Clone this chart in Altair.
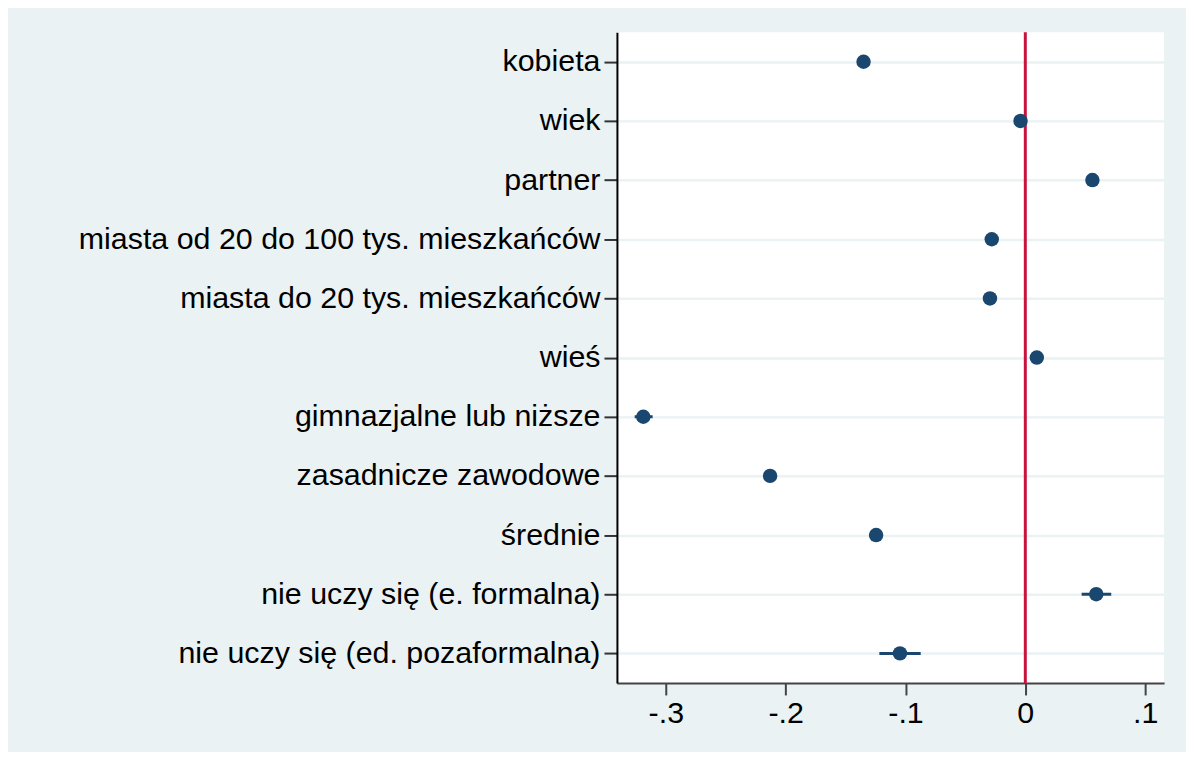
import altair as alt
import pandas as pd

labels = [
    "kobieta",
    "wiek",
    "partner",
    "miasta od 20 do 100 tys. mieszkańców",
    "miasta do 20 tys. mieszkańców",
    "wieś",
    "gimnazjalne lub niższe",
    "zasadnicze zawodowe",
    "średnie",
    "nie uczy się (e. formalna)",
    "nie uczy się (ed. pozaformalna)",
]
coef = [-0.135, -0.004, 0.056, -0.028, -0.0295, 0.0096, -0.3188, -0.213, -0.1245, 0.0592, -0.1046]
ci_low = [-0.140, -0.005, 0.051, -0.033, -0.034, 0.005, -0.326, -0.218, -0.130, 0.047, -0.1218]
ci_high = [-0.130, -0.003, 0.061, -0.023, -0.025, 0.014, -0.311, -0.208, -0.119, 0.0717, -0.0873]
zero_line = [0.0]
tick_values = [-0.3, -0.2, -0.1, 0.0, 0.1]

df = pd.DataFrame({"label": labels, "coef": coef, "lo": ci_low, "hi": ci_high})
zdf = pd.DataFrame({"x": zero_line})

NAVY = "#1A476F"
RED = "#C8133D"
BG = "#EAF2F3"
FONT = "Liberation Sans"

xscale = alt.Scale(domain=[-0.3408, 0.1158], nice=False, zero=False)
xaxis = alt.Axis(
    title=None,
    values=tick_values,
    labelExpr="(datum.value < 0 ? '-' : '') + replace(format(abs(datum.value), '.1~f'), '0.', '.')",
    labelFont=FONT,
    labelFontSize=30.5,
    labelColor="#000000",
    labelPadding=4,
    tickSize=12,
    tickWidth=2,
    tickColor="#444444",
    domainColor="#444444",
    domainWidth=2,
    grid=False,
)
yaxis = alt.Axis(
    title=None,
    labelFont=FONT,
    labelFontSize=30.5,
    labelColor="#000000",
    labelPadding=4,
    labelLimit=0,
    tickSize=13,
    tickWidth=2,
    tickColor="#333333",
    domainColor="#000000",
    domainWidth=2,
    grid=True,
    gridColor=BG,
    gridWidth=2.5,
)
Y = alt.Y("label:N", sort=labels, scale=alt.Scale(type="point", padding=0.5), axis=yaxis)

zero = alt.Chart(zdf).mark_rule(color=RED, strokeWidth=3).encode(
    x=alt.X("x:Q", scale=xscale, axis=xaxis)
)
ci = alt.Chart(df).mark_rule(color=NAVY, strokeWidth=3).encode(
    x=alt.X("lo:Q", scale=xscale, axis=xaxis), x2="hi:Q", y=Y
)
pts = alt.Chart(df).mark_circle(size=210, color=NAVY, opacity=1).encode(
    x=alt.X("coef:Q", scale=xscale, axis=xaxis), y=Y
)

chart = (
    alt.layer(zero, ci, pts)
    .properties(
        width=549,
        height=653,
        autosize=alt.AutoSizeParams(type="none"),
        padding={"left": 611, "top": 23, "right": 22, "bottom": 68},
        background=BG,
    )
    .configure_view(stroke=None, fill="#FFFFFF")
)

chart.save("out.html", embed_options={"renderer": "svg", "actions": False})
